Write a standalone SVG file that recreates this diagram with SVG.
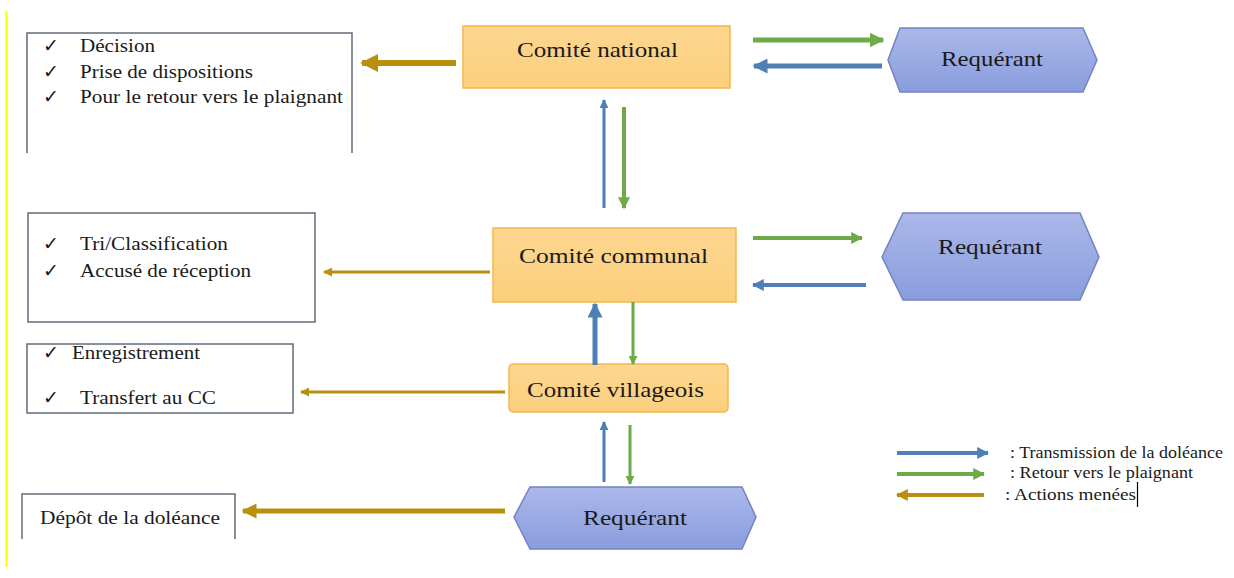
<svg xmlns="http://www.w3.org/2000/svg" width="1234" height="578" viewBox="0 0 1234 578">
<style>
  text { font-family: "Liberation Serif", "Times New Roman", serif; fill: #1a1a1a; }
  .item { font-size: 19px; }
  .node { font-size: 22px; }
  .leg { font-size: 17px; }
  .listbox { fill: #ffffff; stroke: #5f6b7a; stroke-width: 1.5; }
  .comite { fill: url(#orangeGrad); stroke: #f2b84b; stroke-width: 1.5; }
  .req { fill: url(#blueGrad); stroke: #7483c2; stroke-width: 1.5; }
  .blue { stroke: #4f7fb5; fill: none; }
  .green { stroke: #6faa48; fill: none; }
  .gold { stroke: #b8900e; fill: none; }
</style>
<defs>
  <linearGradient id="orangeGrad" x1="0" y1="0" x2="0" y2="1">
    <stop offset="0" stop-color="#fdd68f"/>
    <stop offset="1" stop-color="#fccf7d"/>
  </linearGradient>
  <linearGradient id="blueGrad" x1="0" y1="0" x2="0" y2="1">
    <stop offset="0" stop-color="#aab8ea"/>
    <stop offset="1" stop-color="#8a9cdc"/>
  </linearGradient>
  <marker id="mBlue" viewBox="0 0 10 10" refX="9" refY="5" markerWidth="3" markerHeight="3" orient="auto" markerUnits="strokeWidth">
    <path d="M0,0 L10,5 L0,10 z" fill="#4f7fb5"/>
  </marker>
  <marker id="mGreen" viewBox="0 0 10 10" refX="9" refY="5" markerWidth="3" markerHeight="3" orient="auto" markerUnits="strokeWidth">
    <path d="M0,0 L10,5 L0,10 z" fill="#6faa48"/>
  </marker>
  <marker id="mGold" viewBox="0 0 10 10" refX="9" refY="5" markerWidth="3" markerHeight="3" orient="auto" markerUnits="strokeWidth">
    <path d="M0,0 L10,5 L0,10 z" fill="#b8900e"/>
  </marker>
</defs>

<rect width="1234" height="578" fill="#ffffff"/>
<line x1="6.5" y1="11" x2="6.5" y2="567" stroke="#ffff00" stroke-width="2"/>

<!-- Action boxes -->
<g id="box-decision">
  <path class="listbox" d="M27,153 V33 H352 V153"/>
  <text class="item" x="43" y="52">✓</text>
  <text class="item" x="80" y="52" textLength="75" lengthAdjust="spacingAndGlyphs">Décision</text>
  <text class="item" x="43" y="78">✓</text>
  <text class="item" x="80" y="78" textLength="173" lengthAdjust="spacingAndGlyphs">Prise de dispositions</text>
  <text class="item" x="43" y="103">✓</text>
  <text class="item" x="80" y="103" textLength="263" lengthAdjust="spacingAndGlyphs">Pour le retour vers le plaignant</text>
</g>

<g id="box-tri">
  <rect class="listbox" x="28" y="213" width="287" height="109"/>
  <text class="item" x="43" y="250">✓</text>
  <text class="item" x="80" y="250" textLength="148" lengthAdjust="spacingAndGlyphs">Tri/Classification</text>
  <text class="item" x="43" y="277">✓</text>
  <text class="item" x="80" y="277" textLength="171" lengthAdjust="spacingAndGlyphs">Accusé de réception</text>
</g>

<g id="box-enregistrement">
  <rect class="listbox" x="27" y="344" width="266" height="69"/>
  <text class="item" x="43" y="359">✓</text>
  <text class="item" x="72" y="359" textLength="128" lengthAdjust="spacingAndGlyphs">Enregistrement</text>
  <text class="item" x="43" y="404">✓</text>
  <text class="item" x="80" y="404" textLength="136" lengthAdjust="spacingAndGlyphs">Transfert au CC</text>
</g>

<g id="box-depot">
  <path class="listbox" d="M22,539 V494 H235 V539"/>
  <text class="item" x="40" y="524" textLength="180" lengthAdjust="spacingAndGlyphs">Dépôt de la doléance</text>
</g>

<!-- Comités -->
<g id="comite-national">
  <rect class="comite" x="463" y="26" width="267" height="62"/>
  <text class="node" x="517" y="57" textLength="161" lengthAdjust="spacingAndGlyphs">Comité national</text>
</g>

<g id="comite-communal">
  <rect class="comite" x="493" y="228" width="243" height="74"/>
  <text class="node" x="519" y="263" textLength="189" lengthAdjust="spacingAndGlyphs">Comité communal</text>
</g>

<g id="comite-villageois">
  <rect class="comite" x="509" y="364" width="219" height="48" rx="4"/>
  <text class="node" x="527" y="397" textLength="177" lengthAdjust="spacingAndGlyphs">Comité villageois</text>
</g>

<!-- Requérants -->
<g id="requerant-1">
  <polygon class="req" points="888,60 900,28 1083,28 1097,60 1083,92 900,92"/>
  <text class="node" x="941" y="66" textLength="102" lengthAdjust="spacingAndGlyphs">Requérant</text>
</g>

<g id="requerant-2">
  <polygon class="req" points="882,257 903,213 1080,213 1099,257 1080,300 903,300"/>
  <text class="node" x="938" y="254" textLength="104" lengthAdjust="spacingAndGlyphs">Requérant</text>
</g>

<g id="requerant-3">
  <polygon class="req" points="514,517 530,487 742,487 756,517 742,549 530,549"/>
  <text class="node" x="583" y="525" textLength="104" lengthAdjust="spacingAndGlyphs">Requérant</text>
</g>

<!-- Connectors -->
<g id="connectors">
  <!-- actions (gold, pointing left) -->
  <line class="gold" x1="456" y1="63" x2="362" y2="63" stroke-width="6" marker-end="url(#mGold)"/>
  <line class="gold" x1="490" y1="272" x2="324" y2="272" stroke-width="3" marker-end="url(#mGold)"/>
  <line class="gold" x1="505" y1="392" x2="301" y2="392" stroke-width="3" marker-end="url(#mGold)"/>
  <line class="gold" x1="505" y1="511" x2="243" y2="511" stroke-width="5" marker-end="url(#mGold)"/>

  <!-- national <-> requerant 1 -->
  <line class="green" x1="753" y1="40" x2="883" y2="40" stroke-width="5" marker-end="url(#mGreen)"/>
  <line class="blue" x1="882" y1="66" x2="754" y2="66" stroke-width="5" marker-end="url(#mBlue)"/>

  <!-- communal <-> requerant 2 -->
  <line class="green" x1="753" y1="238" x2="862" y2="238" stroke-width="4" marker-end="url(#mGreen)"/>
  <line class="blue" x1="866" y1="285" x2="753" y2="285" stroke-width="4" marker-end="url(#mBlue)"/>

  <!-- national <-> communal -->
  <line class="blue" x1="604" y1="208" x2="604" y2="100" stroke-width="3" marker-end="url(#mBlue)"/>
  <line class="green" x1="624" y1="107" x2="624" y2="208" stroke-width="4" marker-end="url(#mGreen)"/>

  <!-- communal <-> villageois -->
  <line class="blue" x1="595" y1="365" x2="595" y2="304" stroke-width="5" marker-end="url(#mBlue)"/>
  <line class="green" x1="633" y1="302" x2="633" y2="364" stroke-width="3" marker-end="url(#mGreen)"/>

  <!-- villageois <-> requerant 3 -->
  <line class="blue" x1="604" y1="482" x2="604" y2="422" stroke-width="3" marker-end="url(#mBlue)"/>
  <line class="green" x1="630" y1="425" x2="630" y2="484" stroke-width="3" marker-end="url(#mGreen)"/>
</g>

<!-- Legend -->
<g id="legend">
  <line class="blue" x1="897" y1="453" x2="988" y2="453" stroke-width="4" marker-end="url(#mBlue)"/>
  <line class="green" x1="897" y1="474" x2="984" y2="474" stroke-width="4" marker-end="url(#mGreen)"/>
  <line class="gold" x1="984" y1="495" x2="897" y2="495" stroke-width="4" marker-end="url(#mGold)"/>
  <text class="leg" x="1010" y="458" textLength="213" lengthAdjust="spacingAndGlyphs">: Transmission de la doléance</text>
  <text class="leg" x="1010" y="478" textLength="183" lengthAdjust="spacingAndGlyphs">: Retour vers le plaignant</text>
  <text class="leg" x="1005" y="500" textLength="131" lengthAdjust="spacingAndGlyphs">: Actions menées</text>
  <line x1="1137.5" y1="482" x2="1137.5" y2="507" stroke="#000000" stroke-width="1.2"/>
</g>
</svg>
